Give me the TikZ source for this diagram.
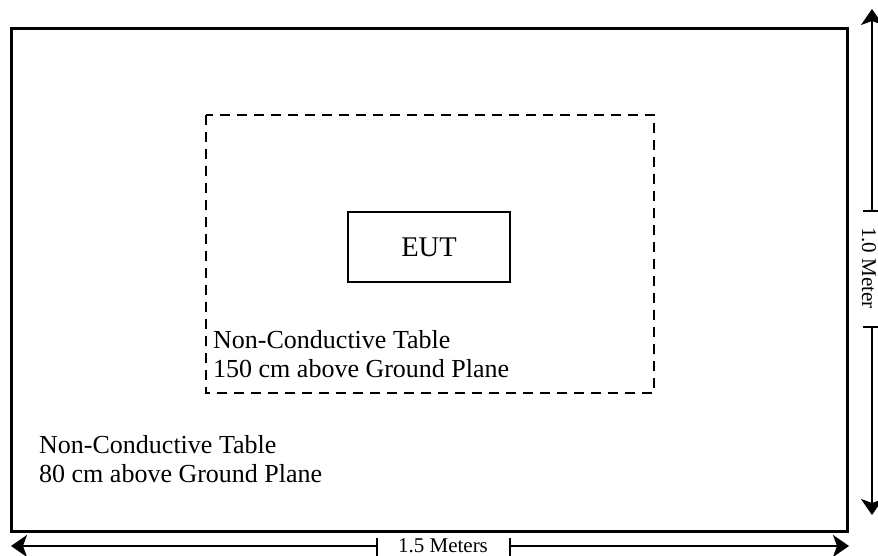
\documentclass[tikz,border=0pt]{standalone}
\usepackage{fontspec}
\setmainfont{Liberation Serif}
\usetikzlibrary{arrows.meta}
\tikzset{
  frame/.style={draw, line width=3pt},
  dashframe/.style={draw, line width=2.8pt, dash pattern=on 10pt off 7pt},
  eutbox/.style={draw, line width=2pt, minimum width=162pt, minimum height=70pt, inner sep=0pt, font=\fontsize{28.5}{32}\selectfont},
  lbl/.style={anchor=base west, align=left, inner sep=0pt, font=\fontsize{26}{29}\selectfont},
  dim/.style={line width=1.4pt},
  dimarrow/.style={dim, -{Stealth[length=16pt, width=22pt, inset=4pt]}},
  dimtext/.style={font=\fontsize{21}{23}\selectfont, inner sep=0pt, anchor=base},
}
\begin{document}
\begin{tikzpicture}[x=1pt, y=-1pt]
\useasboundingbox (0,0) rectangle (878,556);
% outer table
\draw[frame] (11,29) rectangle (847,531);
% inner dashed table
\draw[dashframe] (206,115) rectangle (654,393);
% EUT
\node[eutbox] (eut) at (429,247) {EUT};
% labels (anchor = baseline of the last line)
\node[lbl] (inner) at (213,377) {Non-Conductive Table\\150 cm above Ground Plane};
\node[lbl] (outer) at (39,482) {Non-Conductive Table\\80 cm above Ground Plane};
% horizontal dimension
\node[dimtext] (hlab) at (443,552) {1.5 Meters};
\coordinate (hl) at (11,546);
\coordinate (hr) at (849,546);
\coordinate (htl) at (377,546);
\coordinate (htr) at (510,546);
\draw[dimarrow] (htl) -- (hl);
\draw[dimarrow] (htr) -- (hr);
\draw[dim] ([yshift=-10pt]htl) -- ([yshift=8pt]htl);
\draw[dim] ([yshift=-10pt]htr) -- ([yshift=8pt]htr);
% vertical dimension
\node[dimtext, rotate=-90] (vlab) at (862,268) {1.0 Meter};
\coordinate (vt) at (872,9);
\coordinate (vb) at (872,515);
\coordinate (vtt) at (872,211);
\coordinate (vtb) at (872,327);
\draw[dimarrow] (vtt) -- (vt);
\draw[dimarrow] (vtb) -- (vb);
\draw[dim] ([xshift=-9pt]vtt) -- ([xshift=9pt]vtt);
\draw[dim] ([xshift=-9pt]vtb) -- ([xshift=9pt]vtb);
\end{tikzpicture}
\end{document}
